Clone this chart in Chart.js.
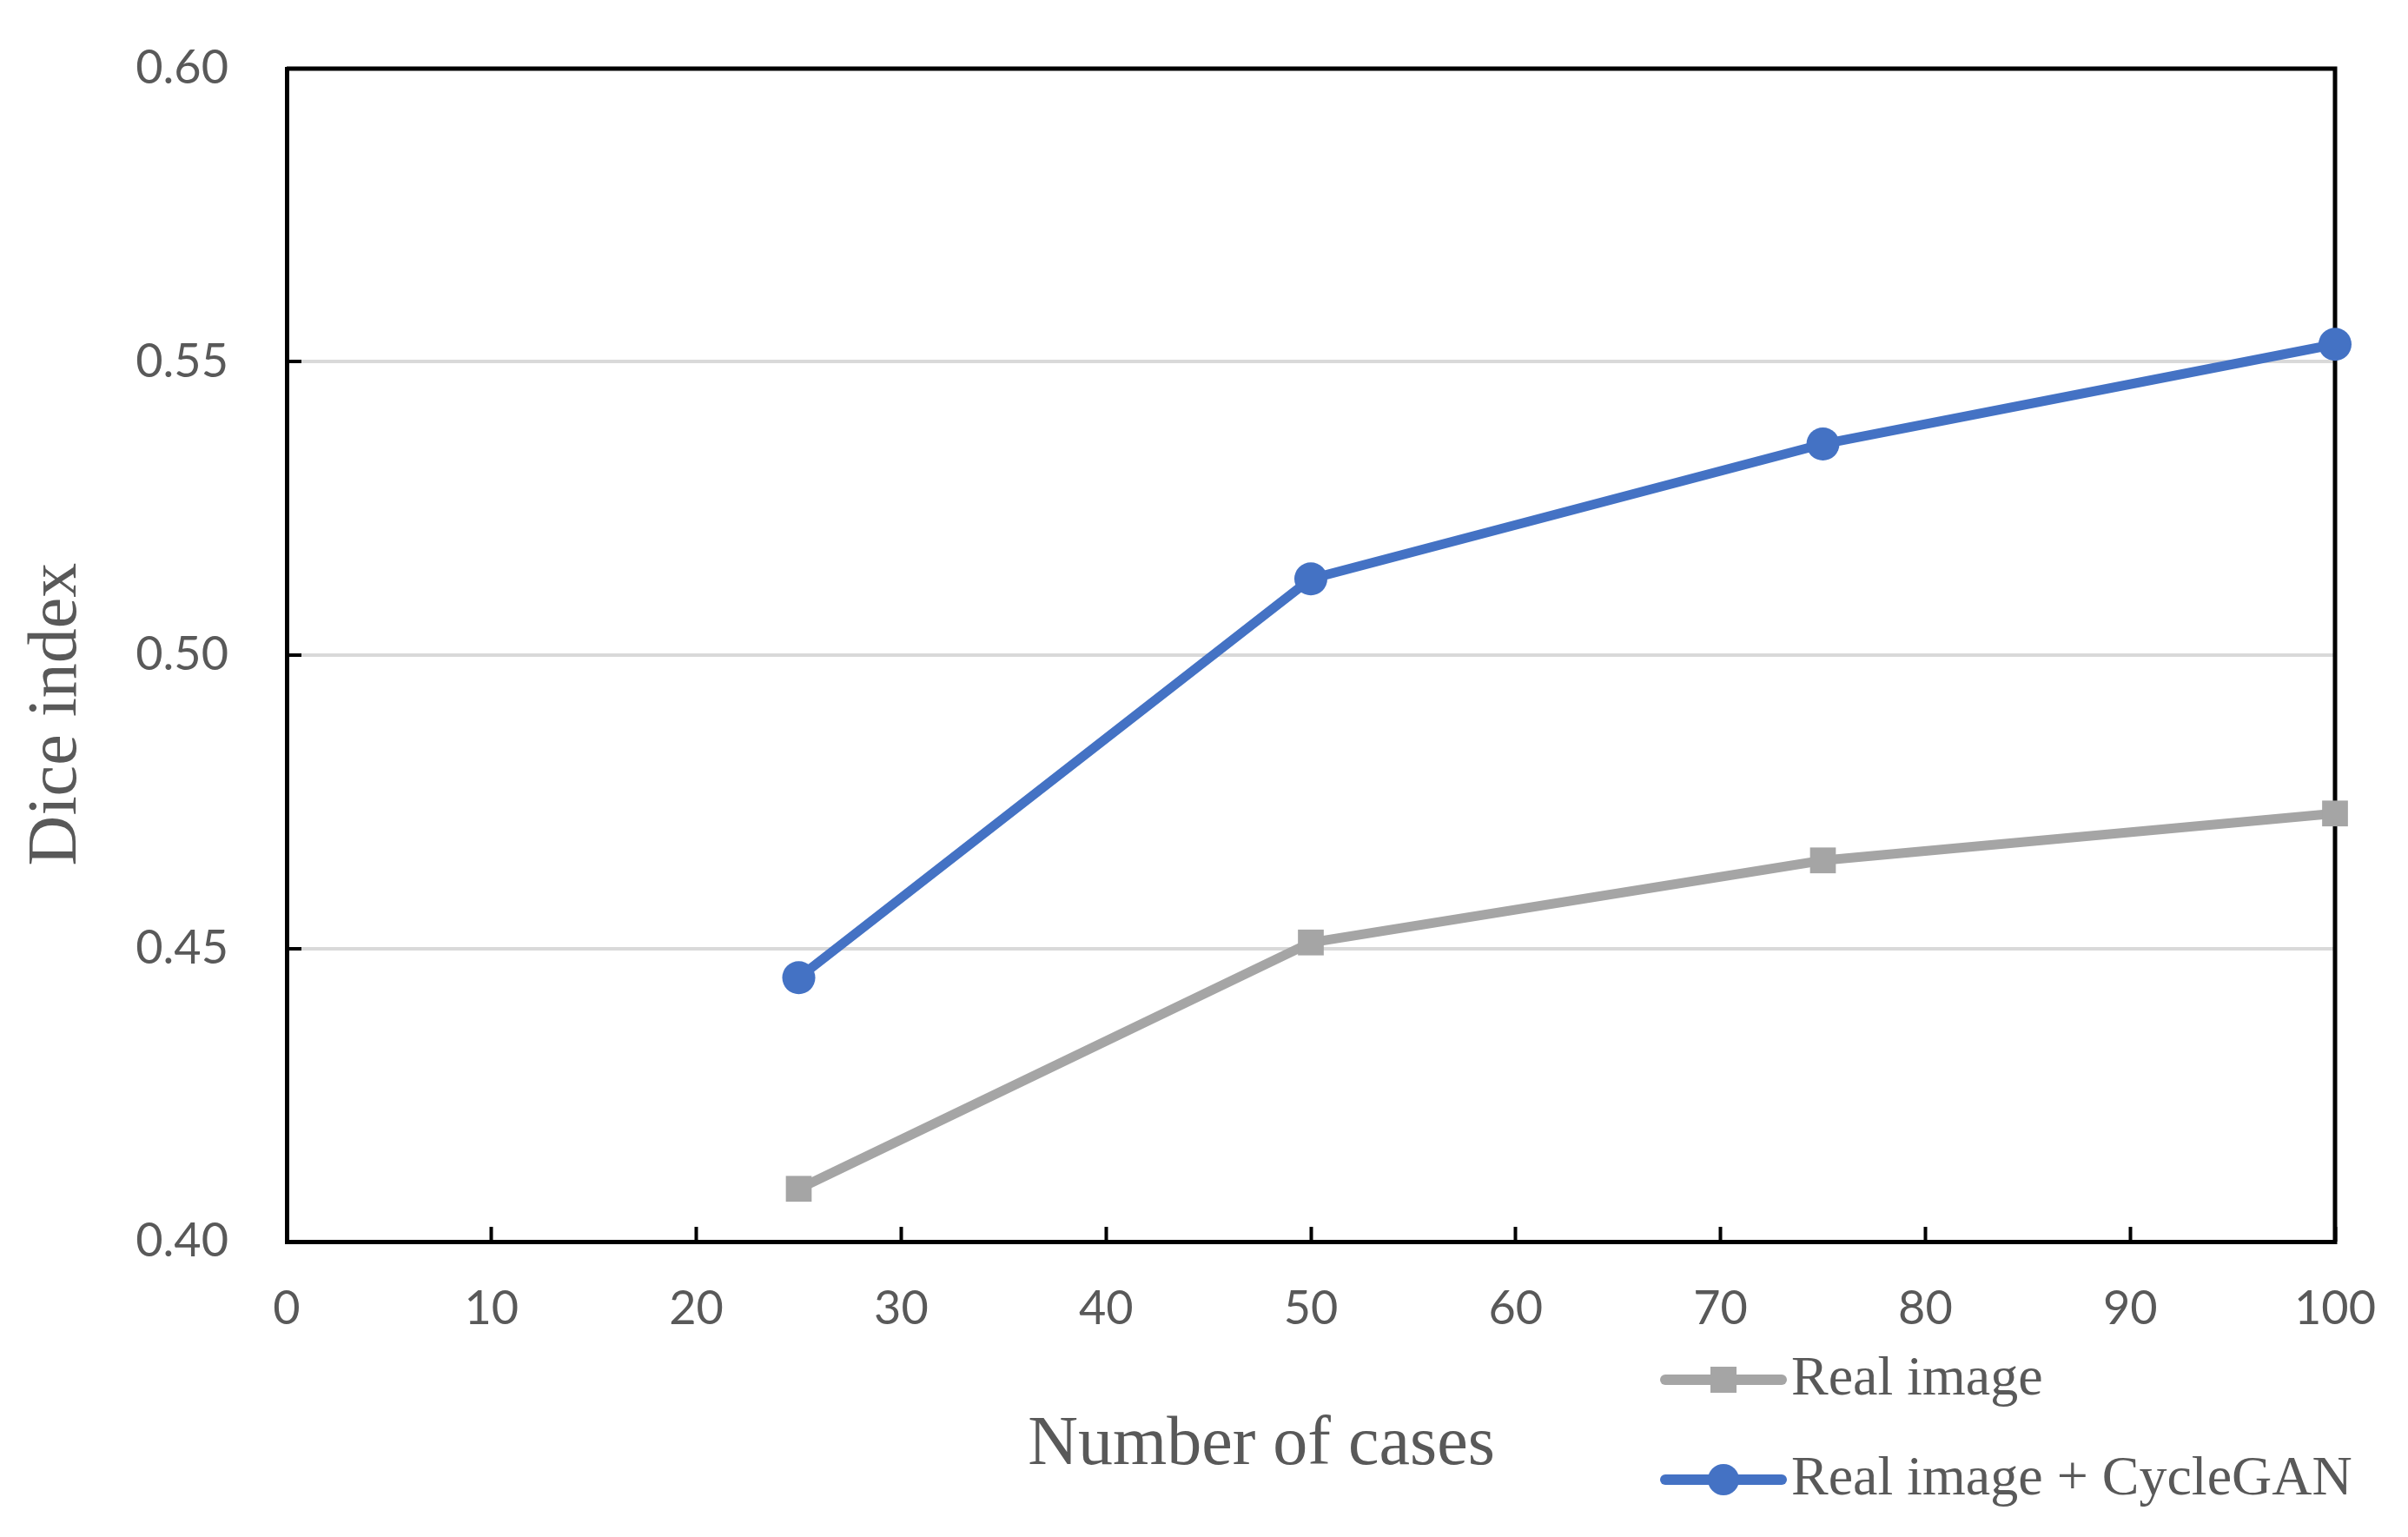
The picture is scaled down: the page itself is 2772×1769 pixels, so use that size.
<!DOCTYPE html>
<html>
<head>
<meta charset="utf-8">
<script src="https://cdn.jsdelivr.net/npm/chart.js"></script>
<style>
  html, body { margin: 0; padding: 0; background: #fff; }
  canvas { display: block; }
</style>
</head>
<body>
<canvas id="dice" width="2772" height="1769" style="width:2772px;height:1769px"></canvas>
<script>
// values
const cases = [25, 50, 75, 100];
const realImage = [0.409, 0.451, 0.465, 0.473];
const realPlusCycleGAN = [0.445, 0.513, 0.536, 0.553];
const seriesNames = ['Real image', 'Real image + CycleGAN'];
const xTitle = 'Number of cases';
const yTitle = 'Dice index';

const GRAY = '#A5A5A5';
const BLUE = '#4472C4';
const TEXT = '#595959';

const toPoints = vals => cases.map((c, i) => ({ x: c, y: vals[i] }));

// top + right edges of the plot box, Chart.js only draws left/bottom
const frame = {
    id: 'frame',
    beforeDatasetsDraw(chart) {
        const a = chart.chartArea, ctx = chart.ctx;
        ctx.save();
        ctx.strokeStyle = '#000';
        ctx.lineWidth = 5;
        ctx.beginPath();
        ctx.moveTo(a.left, a.top);
        ctx.lineTo(a.right, a.top);
        ctx.lineTo(a.right, a.bottom);
        ctx.stroke();
        ctx.restore();
    }
};

// axis titles and the two-row legend under the x axis
const extras = {
    id: 'extras',
    afterDraw(chart) {
        const ctx = chart.ctx;
        ctx.save();
        ctx.fillStyle = TEXT;
        ctx.textBaseline = 'middle';

        ctx.font = '80px "Liberation Serif", "Times New Roman", serif';
        ctx.textAlign = 'center';
        ctx.fillText(xTitle, 1452, 1664);
        ctx.save();
        ctx.translate(66, 822);
        ctx.rotate(-Math.PI / 2);
        ctx.fillText(yTitle, 0, 0);
        ctx.restore();

        const rows = [
            { y: 1588, color: GRAY, shape: 'rect' },
            { y: 1703, color: BLUE, shape: 'circle' }
        ];
        ctx.font = '64px "Liberation Serif", "Times New Roman", serif';
        ctx.textAlign = 'left';
        rows.forEach((r, i) => {
            ctx.strokeStyle = r.color;
            ctx.fillStyle = r.color;
            ctx.lineWidth = 12;
            ctx.lineCap = 'round';
            ctx.beginPath();
            ctx.moveTo(1917, r.y);
            ctx.lineTo(2051, r.y);
            ctx.stroke();
            ctx.beginPath();
            if (r.shape === 'rect') ctx.rect(1969, r.y - 15, 30, 30);
            else ctx.arc(1984, r.y, 18, 0, Math.PI * 2);
            ctx.fill();
            ctx.fillStyle = TEXT;
            ctx.fillText(seriesNames[i], 2062, r.y);
        });
        ctx.restore();
    }
};

new Chart(document.getElementById('dice'), {
    type: 'line',
    data: {
        datasets: [
            {
                label: seriesNames[0],
                data: toPoints(realImage),
                borderColor: GRAY,
                backgroundColor: GRAY,
                borderWidth: 11,
                pointStyle: 'rect',
                pointRadius: 21,
                pointBorderWidth: 0,
                clip: false,
                tension: 0
            },
            {
                label: seriesNames[1],
                data: toPoints(realPlusCycleGAN),
                borderColor: BLUE,
                backgroundColor: BLUE,
                borderWidth: 11,
                pointStyle: 'circle',
                pointRadius: 19,
                pointBorderWidth: 0,
                clip: false,
                tension: 0
            }
        ]
    },
    options: {
        responsive: false,
        animation: false,
        devicePixelRatio: 1,
        layout: { padding: { top: 79, right: 84, left: 0, bottom: 0 } },
        plugins: {
            legend: { display: false },
            tooltip: { enabled: false }
        },
        scales: {
            x: {
                type: 'linear',
                min: 0,
                max: 100,
                afterFit: s => {
                    s.height = 340;
                    s.paddingLeft = 0;
                    s.paddingRight = 0;
                },
                ticks: {
                    stepSize: 10,
                    padding: 62,
                    color: TEXT,
                    font: { family: 'Lato', size: 54 }
                },
                grid: {
                    drawOnChartArea: false,
                    tickLength: -17,
                    tickWidth: 4,
                    tickColor: '#000'
                },
                border: { color: '#000', width: 5 }
            },
            y: {
                min: 0.4,
                max: 0.6,
                afterFit: s => {
                    s.width = 330;
                    s.paddingTop = 0;
                    s.paddingBottom = 0;
                },
                ticks: {
                    stepSize: 0.05,
                    padding: 84,
                    color: TEXT,
                    font: { family: 'Lato', size: 54 },
                    callback: v => v.toFixed(2)
                },
                grid: {
                    color: '#D9D9D9',
                    lineWidth: 4,
                    tickLength: -17,
                    tickWidth: 4,
                    tickColor: '#000'
                },
                border: { color: '#000', width: 5 }
            }
        }
    },
    plugins: [frame, extras]
});
</script>
</body>
</html>
